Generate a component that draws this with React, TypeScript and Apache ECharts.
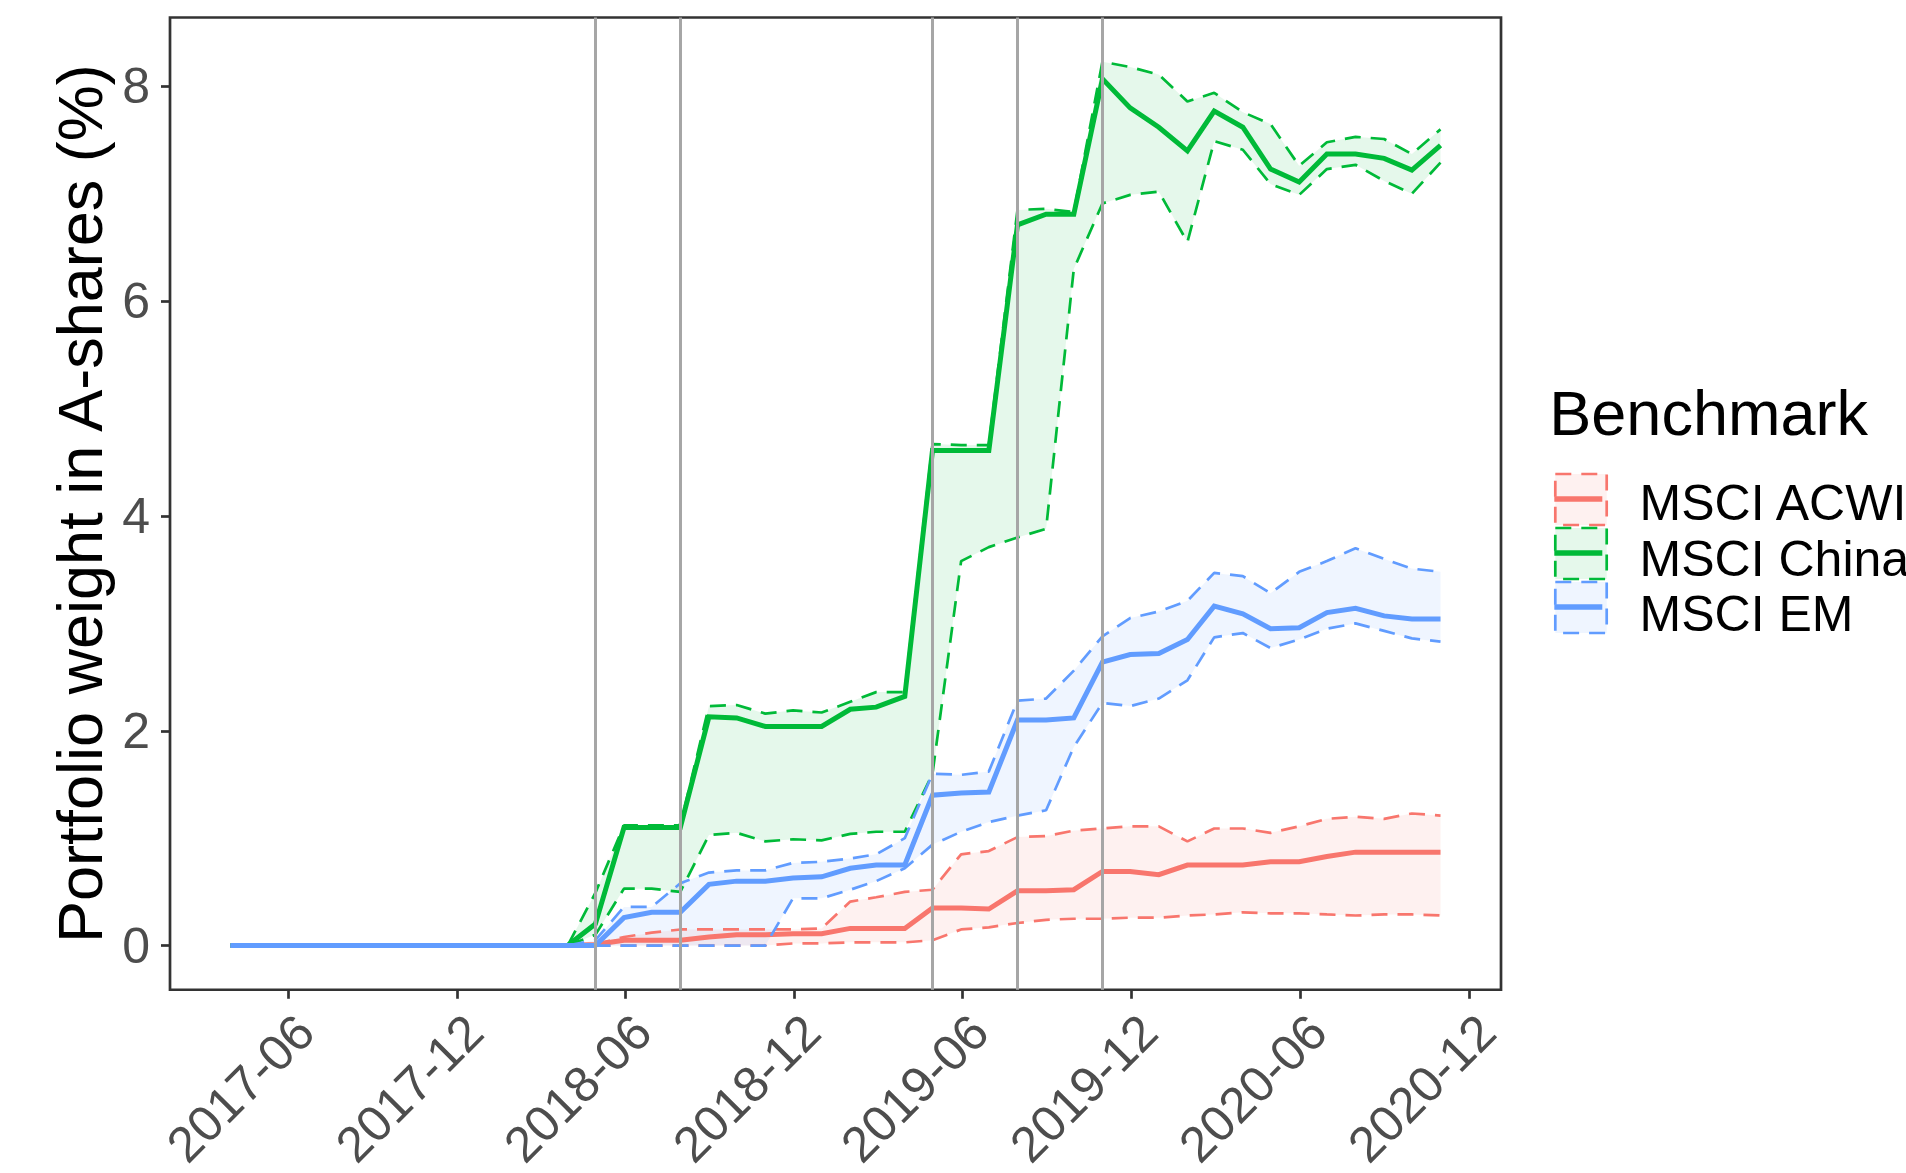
import React, { useEffect, useRef } from 'react';
import * as echarts from 'echarts';

// ---- data (month-end observations) ----
const dates = [
  '2017-03-31', '2017-04-30', '2017-05-31', '2017-06-30', '2017-07-31', '2017-08-31', '2017-09-30', '2017-10-31', '2017-11-30', '2017-12-31',
  '2018-01-31', '2018-02-28', '2018-03-31', '2018-04-30', '2018-05-31', '2018-06-30', '2018-07-31', '2018-08-31', '2018-09-30', '2018-10-31', '2018-11-30', '2018-12-31',
  '2019-01-31', '2019-02-28', '2019-03-31', '2019-04-30', '2019-05-31', '2019-06-30', '2019-07-31', '2019-08-31', '2019-09-30', '2019-10-31', '2019-11-30', '2019-12-31',
  '2020-01-31', '2020-02-29', '2020-03-31', '2020-04-30', '2020-05-31', '2020-06-30', '2020-07-31', '2020-08-31', '2020-09-30', '2020-10-31',
];

const acwiMid = [
  0, 0, 0, 0, 0, 0, 0, 0, 0, 0,
  0, 0, 0, 0.01, 0.05, 0.05, 0.05, 0.08, 0.10, 0.10, 0.11, 0.11,
  0.16, 0.16, 0.16, 0.35, 0.35, 0.34, 0.51, 0.51, 0.52, 0.69, 0.69, 0.66,
  0.75, 0.75, 0.75, 0.78, 0.78, 0.83, 0.87, 0.87, 0.87, 0.87,
];
const acwiUpper = [
  0, 0, 0, 0, 0, 0, 0, 0, 0, 0,
  0, 0, 0, 0.01, 0.08, 0.12, 0.15, 0.15, 0.15, 0.15, 0.15, 0.16,
  0.41, 0.45, 0.50, 0.52, 0.85, 0.88, 1.01, 1.02, 1.07, 1.09, 1.11, 1.11,
  0.97, 1.09, 1.09, 1.05, 1.11, 1.18, 1.20, 1.18, 1.23, 1.21,
];
const acwiLower = [
  0, 0, 0, 0, 0, 0, 0, 0, 0, 0,
  0, 0, 0, 0, 0, 0, 0, 0, 0, 0, 0.02, 0.02,
  0.03, 0.03, 0.03, 0.05, 0.15, 0.17, 0.21, 0.24, 0.25, 0.25, 0.26, 0.26,
  0.28, 0.29, 0.31, 0.30, 0.30, 0.29, 0.28, 0.29, 0.29, 0.28,
];

const chinaMid = [
  0, 0, 0, 0, 0, 0, 0, 0, 0, 0,
  0, 0, 0, 0.20, 1.10, 1.10, 1.10, 2.13, 2.12, 2.04, 2.04, 2.04,
  2.20, 2.22, 2.32, 4.61, 4.61, 4.61, 6.71, 6.81, 6.81, 8.07, 7.80, 7.62,
  7.40, 7.77, 7.62, 7.23, 7.11, 7.37, 7.37, 7.33, 7.22, 7.45,
];
const chinaUpper = [
  0, 0, 0, 0, 0, 0, 0, 0, 0, 0,
  0, 0, 0, 0.49, 1.12, 1.12, 1.12, 2.23, 2.24, 2.16, 2.19, 2.17,
  2.27, 2.36, 2.36, 4.67, 4.66, 4.66, 6.85, 6.86, 6.83, 8.23, 8.18, 8.11,
  7.86, 7.94, 7.76, 7.65, 7.26, 7.48, 7.53, 7.51, 7.37, 7.60,
];
const chinaLower = [
  0, 0, 0, 0, 0, 0, 0, 0, 0, 0,
  0, 0, 0, 0.10, 0.53, 0.53, 0.50, 1.03, 1.05, 0.97, 0.99, 0.98,
  1.04, 1.06, 1.06, 1.60, 3.58, 3.71, 3.80, 3.88, 6.30, 6.91, 6.99, 7.02,
  6.55, 7.49, 7.41, 7.09, 6.99, 7.23, 7.27, 7.12, 7.00, 7.29,
];

const emMid = [
  0, 0, 0, 0, 0, 0, 0, 0, 0, 0,
  0, 0, 0, 0, 0.26, 0.31, 0.31, 0.57, 0.60, 0.60, 0.63, 0.64,
  0.72, 0.75, 0.75, 1.40, 1.42, 1.43, 2.10, 2.10, 2.12, 2.64, 2.71, 2.72,
  2.85, 3.16, 3.09, 2.95, 2.96, 3.10, 3.14, 3.07, 3.04, 3.04,
];
const emUpper = [
  0, 0, 0, 0, 0, 0, 0, 0, 0, 0,
  0, 0, 0, 0.05, 0.36, 0.36, 0.58, 0.68, 0.70, 0.70, 0.77, 0.78,
  0.81, 0.85, 1.00, 1.60, 1.59, 1.62, 2.28, 2.30, 2.56, 2.88, 3.05, 3.11,
  3.21, 3.47, 3.44, 3.28, 3.48, 3.58, 3.70, 3.60, 3.51, 3.48,
];
const emLower = [
  0, 0, 0, 0, 0, 0, 0, 0, 0, 0,
  0, 0, 0, 0, 0, 0, 0, 0, 0, 0, 0.44, 0.44,
  0.52, 0.60, 0.72, 0.94, 1.06, 1.15, 1.21, 1.26, 1.85, 2.26, 2.23, 2.30,
  2.47, 2.87, 2.91, 2.77, 2.85, 2.95, 3.00, 2.93, 2.86, 2.83,
];

const benchmarks = ['MSCI ACWI', 'MSCI China', 'MSCI EM'];
const lineColors = ['#F8766D', '#00BA38', '#619CFF'];
const fillColors = ['rgba(248,118,109,0.1)', 'rgba(0,186,56,0.1)', 'rgba(97,156,255,0.1)'];
const xTickLabels = ['2017-06', '2017-12', '2018-06', '2018-12', '2019-06', '2019-12', '2020-06', '2020-12'];
const yTicks = [0, 2, 4, 6, 8];
const eventDates = ['2018-04-30', '2018-07-31', '2019-04-30', '2019-07-31', '2019-10-31'];
const yTitle = 'Portfolio weight in A-shares (%)';
const legendTitle = 'Benchmark';

const FONT = "'Liberation Sans', Arial, Helvetica, sans-serif";

function toTs(s: string): number {
  const p = s.split('-').map(Number);
  return Date.UTC(p[0], p[1] - 1, p[2] || 1);
}
function fmt(v: number): string {
  const d = new Date(v);
  const m = d.getUTCMonth() + 1;
  return d.getUTCFullYear() + '-' + (m < 10 ? '0' + m : '' + m);
}

export default function App() {
  const ref = useRef<HTMLDivElement>(null);

  useEffect(() => {
    if (!ref.current) return;
    const chart = echarts.init(ref.current, null, { renderer: 'svg' });
    const xs = dates.map(toTs);
    const t0 = xs[0];
    const t1 = xs[xs.length - 1];
    const padT = (t1 - t0) * 0.05;
    const allHi = Math.max(...chinaUpper, ...emUpper, ...acwiUpper);
    const yMin = -allHi * 0.05;
    const yMax = allHi * 1.05;

    const groups = [
      { mid: acwiMid, lo: acwiLower, hi: acwiUpper },
      { mid: chinaMid, lo: chinaLower, hi: chinaUpper },
      { mid: emMid, lo: emLower, hi: emUpper },
    ];

    const series: any[] = [];
    groups.forEach((g, i) => {
      series.push({
        type: 'custom', name: benchmarks[i] + ' band', silent: true, z: 2,
        data: xs.map((t, k) => [t, g.lo[k], g.hi[k]]),
        encode: { x: 0, y: [1, 2] },
        renderItem: (params: any, api: any) => {
          if (params.dataIndex !== 0) return null;
          const top = xs.map((t, k) => api.coord([t, g.hi[k]]));
          const bot = xs.map((t, k) => api.coord([t, g.lo[k]])).reverse();
          return {
            type: 'polygon', silent: true,
            shape: { points: top.concat(bot) },
            style: { fill: fillColors[i], stroke: null },
          };
        },
      });
      series.push({
        type: 'line', name: benchmarks[i] + ' lower', silent: true,
        data: xs.map((t, k) => [t, g.lo[k]]), symbol: 'none', showSymbol: false,
        lineStyle: { color: lineColors[i], width: 2.7, type: [16, 10], cap: 'butt' },
        emphasis: { disabled: true }, z: 2,
      });
      series.push({
        type: 'line', name: benchmarks[i] + ' upper', silent: true,
        data: xs.map((t, k) => [t, g.hi[k]]), symbol: 'none', showSymbol: false,
        lineStyle: { color: lineColors[i], width: 2.7, type: [16, 10], cap: 'butt' },
        emphasis: { disabled: true }, z: 2,
      });
      series.push({
        type: 'line', name: benchmarks[i], silent: true,
        data: xs.map((t, k) => [t, g.mid[k]]), symbol: 'none', showSymbol: false,
        lineStyle: { color: lineColors[i], width: 5, join: 'miter', cap: 'butt' },
        emphasis: { disabled: true }, z: 2,
      });
    });
    series.push({
      type: 'line', name: 'events', silent: true,
      data: [[xs[0], 0]], symbol: 'none', showSymbol: false,
      lineStyle: { opacity: 0, width: 0 }, z: 5,
      markLine: {
        silent: true, symbol: ['none', 'none'], label: { show: false },
        lineStyle: { color: '#A6A6A6', width: 3, type: 'solid' },
        emphasis: { disabled: true },
        data: eventDates.map((d) => ({ xAxis: toTs(d) })),
      },
    });

    const keyX = 1555.3, keyW = 51.4, keyH = 51;
    const keyY = [474, 528, 582];
    const labelY = [502.7, 559.4, 614.4];
    const graphic: any[] = [
      {
        type: 'text', x: 1549.3, y: 413.2, silent: true,
        style: { text: legendTitle, fill: '#000000', fontSize: 63, fontFamily: FONT, align: 'left', verticalAlign: 'middle' },
      },
    ];
    benchmarks.forEach((b, i) => {
      graphic.push({
        type: 'rect', silent: true,
        shape: { x: keyX, y: keyY[i], width: keyW, height: keyH },
        style: { fill: fillColors[i], stroke: lineColors[i], lineWidth: 2.7, lineDash: [16, 10] },
      });
      graphic.push({
        type: 'line', silent: true,
        shape: { x1: keyX - 1, y1: keyY[i] + 25, x2: keyX + 47, y2: keyY[i] + 25 },
        style: { stroke: lineColors[i], lineWidth: 5.5 },
      });
      graphic.push({
        type: 'text', x: 1639.6, y: labelY[i], silent: true,
        style: { text: b, fill: '#000000', fontSize: 50, fontFamily: FONT, align: 'left', verticalAlign: 'middle' },
      });
    });

    const xTickVals = xTickLabels.map((s) => toTs(s + '-01'));

    chart.setOption({
      animation: false,
      backgroundColor: '#FFFFFF',
      textStyle: { fontFamily: FONT },
      grid: {
        show: true, left: 170, top: 17.5, width: 1331, height: 978.5,
        borderColor: '#333333', borderWidth: 2.7, backgroundColor: 'transparent', containLabel: false,
      },
      xAxis: {
        type: 'value', min: t0 - padT, max: t1 + padT, scale: true, position: 'bottom',
        axisLine: { show: false, onZero: false },
        splitLine: { show: false },
        axisTick: { show: true, length: 9, lineStyle: { color: '#333333', width: 2.7 }, customValues: xTickVals },
        axisLabel: {
          show: true, customValues: xTickVals, formatter: (v: number) => fmt(v),
          rotate: 45, align: 'right', verticalAlign: 'top', margin: 16,
          fontSize: 50, color: '#4D4D4D', fontFamily: FONT,
        },
      },
      yAxis: {
        type: 'value', min: yMin, max: yMax, position: 'left',
        name: yTitle, nameLocation: 'middle', nameRotate: 90, nameGap: 53,
        nameTextStyle: { fontSize: 63, color: '#000000', fontFamily: FONT },
        axisLine: { show: false, onZero: false },
        splitLine: { show: false },
        axisTick: { show: true, length: 9, lineStyle: { color: '#333333', width: 2.7 }, customValues: yTicks },
        axisLabel: {
          show: true, customValues: yTicks, margin: 20,
          fontSize: 50, color: '#4D4D4D', fontFamily: FONT,
        },
      },
      series,
      graphic,
    });

    return () => {
      chart.dispose();
    };
  }, []);

  return (
    <div
      ref={ref}
      style={{ position: 'fixed', left: 0, top: 0, width: 1906, height: 1173, background: '#FFFFFF' }}
    />
  );
}
